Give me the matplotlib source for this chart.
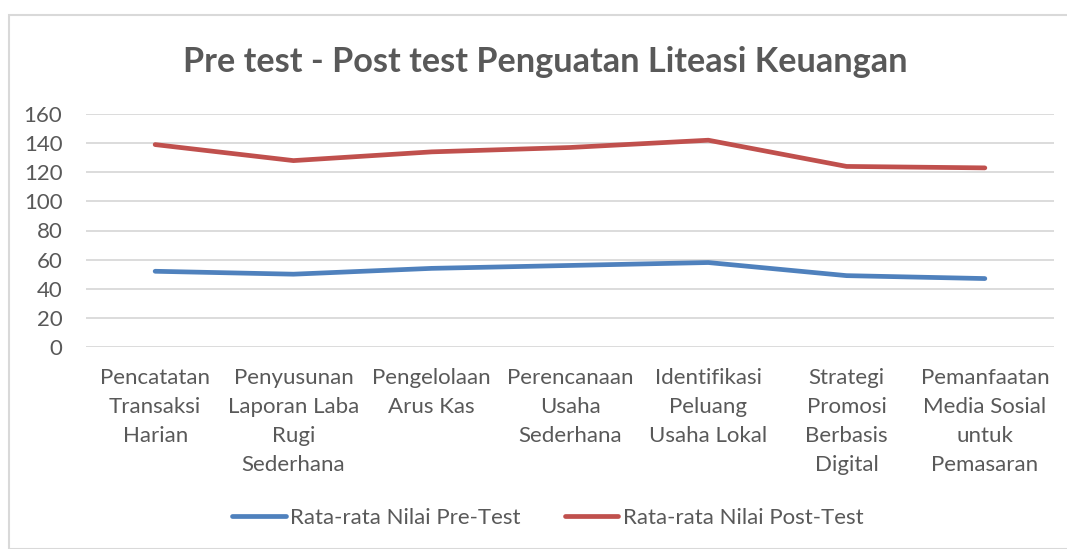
import matplotlib.pyplot as plt
from matplotlib.patches import Rectangle

plt.rcParams['font.family'] = ['Lato', 'DejaVu Sans']

categories = ['Pencatatan\nTransaksi\nHarian',
              'Penyusunan\nLaporan Laba\nRugi\nSederhana',
              'Pengelolaan\nArus Kas',
              'Perencanaan\nUsaha\nSederhana',
              'Identifikasi\nPeluang\nUsaha Lokal',
              'Strategi\nPromosi\nBerbasis\nDigital',
              'Pemanfaatan\nMedia Sosial\nuntuk\nPemasaran']
pre_test = [52, 50, 54, 56, 58, 49, 47]
post_test = [139, 128, 134, 137, 142, 124, 123]
yticks = [0, 20, 40, 60, 80, 100, 120, 140, 160]

txt = '#595959'
W, H = 1067, 549
fig = plt.figure(figsize=(W / 100, H / 100), dpi=100)
fig.patches.append(Rectangle((9 / W, 0), 1.2, 1 - 15 / H, transform=fig.transFigure,
                             fill=False, edgecolor='#D9D9D9', linewidth=1.5))

ax = fig.add_axes([86 / W, 1 - 347 / H, (1054 - 86) / W, (347 - 114) / H])
x = list(range(len(categories)))
ax.plot(x, pre_test, color='#4F81BD', linewidth=3.4, solid_capstyle='round',
        label='Rata-rata Nilai Pre-Test')
ax.plot(x, post_test, color='#C0504D', linewidth=3.4, solid_capstyle='round',
        label='Rata-rata Nilai Post-Test')

ax.set_xlim(-0.5, len(categories) - 0.5)
ax.set_ylim(0, 160)
ax.set_yticks(yticks)
ax.set_xticks(x)
ax.set_xticklabels(categories, linespacing=1.56)
ax.tick_params(axis='both', length=0, labelsize=16, colors=txt)
ax.tick_params(axis='y', pad=17)
ax.tick_params(axis='x', pad=15)
ax.grid(axis='y', color='#D9D9D9', linewidth=1.3)
ax.set_axisbelow(True)
for s in ax.spines.values():
    s.set_visible(False)

fig.text(545 / W, 1 - 62 / H, 'Pre test - Post test Penguatan Liteasi Keuangan',
         ha='center', va='center', fontsize=24.7, fontweight='bold', color=txt)

leg = fig.legend(loc='center', bbox_to_anchor=(548 / W, 1 - 518 / H), ncol=2,
                 frameon=False, fontsize=16, handlelength=2.4, handletextpad=0.2,
                 columnspacing=2.0)
for t in leg.get_texts():
    t.set_color(txt)

fig.savefig('out.png', dpi=100)
